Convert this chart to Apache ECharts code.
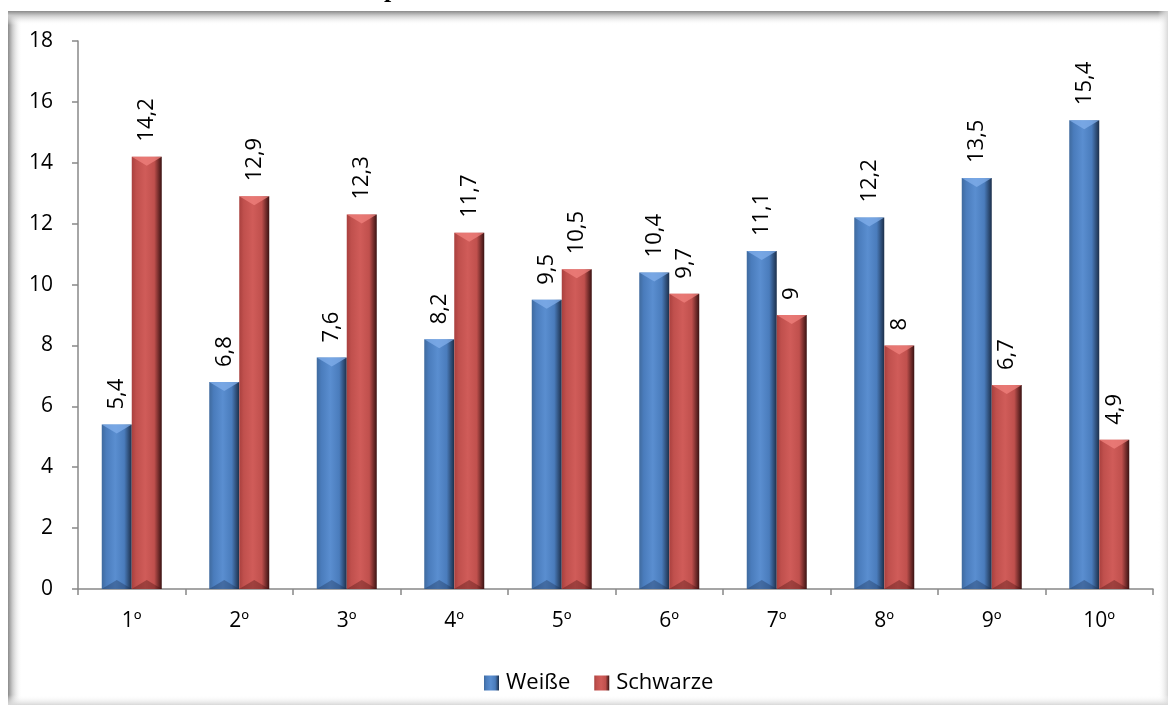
<!DOCTYPE html>
<html><head><meta charset="utf-8">
<script src="https://cdn.jsdelivr.net/npm/echarts@6/dist/echarts.min.js"></script>
<style>html,body{margin:0;padding:0;background:#fff;}#c{width:1175px;height:711px;}</style>
</head><body><div id="c"></div>
<script>
const categories = ['1º','2º','3º','4º','5º','6º','7º','8º','9º','10º'];
const weisse = [5.4, 6.8, 7.6, 8.2, 9.5, 10.4, 11.1, 12.2, 13.5, 15.4];
const schwarze = [14.2, 12.9, 12.3, 11.7, 10.5, 9.7, 9, 8, 6.7, 4.9];
const seriesNames = ['Weiße', 'Schwarze'];

const FONT = '"Open Sans", sans-serif';
const BAR_W = 30;
function grad(edge, mid, light, dark) {
  return new echarts.graphic.LinearGradient(0, 0, 1, 0, [
    {offset: 0, color: edge},
    {offset: 0.15, color: mid},
    {offset: 0.45, color: light},
    {offset: 0.75, color: mid},
    {offset: 1, color: dark}
  ]);
}
const blue = grad('#3f6a9e', '#4a7cbc', '#5a8ed0', '#1c2f4a');
const red = grad('#a9403e', '#c0504d', '#d05c59', '#3a1212');
const fmt = p => String(p.value).replace('.', ',');
const lbl = {show: true, position: 'top', rotate: 90, align: 'left', verticalAlign: 'middle', distance: 15,
  formatter: fmt, fontFamily: FONT, fontSize: 22, color: '#000'};

// bevel overlays (top chevron + bottom darker wedge), positioned via the axes
function bevel(side, topColor, botColor) {
  return function (params, api) {
    const top = api.coord([api.value(0), api.value(1)]);
    const base = api.coord([api.value(0), 0]);
    const x0 = side < 0 ? top[0] - BAR_W : top[0];
    const x1 = x0 + BAR_W;
    const h = Math.min(9, (base[1] - top[1]) / 2);
    return {type: 'group', children: [
      {type: 'polygon', shape: {points: [[x0, top[1]], [x1, top[1]], [(x0 + x1) / 2, top[1] + h]]}, style: {fill: topColor}},
      {type: 'polygon', shape: {points: [[x0, base[1]], [(x0 + x1) / 2, base[1] - h], [x1, base[1]]]}, style: {fill: botColor}}
    ]};
  };
}

const chart = echarts.init(document.getElementById('c'));
chart.setOption({
  animation: false,
  backgroundColor: '#fff',
  graphic: [
    {type: 'rect', shape: {x: 8, y: 11, width: 14, height: 694}, style: {fill: new echarts.graphic.LinearGradient(0,0,1,0,[{offset:0,color:'#8a8a8a'},{offset:0.3,color:'#c8c8c8'},{offset:1,color:'rgba(255,255,255,0)'}])}, z: -1},
    {type: 'rect', shape: {x: 8, y: 11, width: 1160, height: 14}, style: {fill: new echarts.graphic.LinearGradient(0,0,0,1,[{offset:0,color:'#8a8a8a'},{offset:0.3,color:'#c8c8c8'},{offset:1,color:'rgba(255,255,255,0)'}])}, z: -1},
    {type: 'rect', shape: {x: 1158, y: 11, width: 10, height: 694}, style: {fill: new echarts.graphic.LinearGradient(0,0,1,0,[{offset:0,color:'rgba(255,255,255,0)'},{offset:1,color:'#d8d8d8'}])}, z: -1},
    {type: 'rect', shape: {x: 8, y: 695, width: 1160, height: 10}, style: {fill: new echarts.graphic.LinearGradient(0,0,0,1,[{offset:0,color:'rgba(255,255,255,0)'},{offset:1,color:'#d8d8d8'}])}, z: -1},
    {type: 'text', x: 384, y: -10, style: {text: 'p', fontFamily: '"Liberation Serif", serif', fontWeight: 'bold', fontSize: 26, fill: '#000', textVerticalAlign: 'middle'}}
  ],
  grid: {left: 78, right: 22, top: 41, bottom: 122},
  legend: {
    data: seriesNames, left: 479, top: 667, itemWidth: 15, itemHeight: 15, itemGap: 24, icon: 'rect',
    textStyle: {fontFamily: FONT, fontSize: 22, color: '#000', padding: [0,0,0,2]}
  },
  xAxis: {
    type: 'category', data: categories,
    axisLine: {lineStyle: {color: '#888', width: 1.5}},
    axisTick: {show: true, length: 6, lineStyle: {color: '#888', width: 1.5}},
    axisLabel: {fontFamily: FONT, fontSize: 21, color: '#000', margin: 22}
  },
  yAxis: {
    type: 'value', min: 0, max: 18, interval: 2,
    splitLine: {show: false},
    axisLine: {show: true, lineStyle: {color: '#888', width: 1.5}},
    axisTick: {show: true, length: 6, lineStyle: {color: '#888', width: 1.5}},
    axisLabel: {fontFamily: FONT, fontSize: 21, color: '#000', margin: 25}
  },
  series: [
    {name: seriesNames[0], type: 'bar', data: weisse, barWidth: BAR_W, barGap: '0%', itemStyle: {color: blue}, label: lbl},
    {name: seriesNames[1], type: 'bar', data: schwarze, barWidth: BAR_W, barGap: '0%', itemStyle: {color: red}, label: lbl},
    {type: 'custom', data: weisse.map((v, i) => [i, v]), renderItem: bevel(-1, 'rgba(130,175,235,0.75)', 'rgba(25,45,80,0.35)'), z: 3, silent: true, encode: {x: 0, y: 1}},
    {type: 'custom', data: schwarze.map((v, i) => [i, v]), renderItem: bevel(1, 'rgba(240,130,125,0.75)', 'rgba(70,15,15,0.35)'), z: 3, silent: true, encode: {x: 0, y: 1}}
  ]
});
</script></body></html>
